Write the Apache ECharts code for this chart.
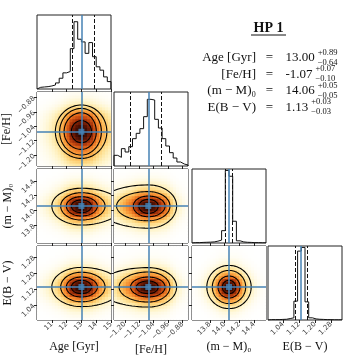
<!DOCTYPE html>
<html>
<head>
<meta charset="utf-8">
<script src="https://cdn.jsdelivr.net/npm/echarts@6/dist/echarts.min.js"></script>
<style>
html, body { margin: 0; padding: 0; background: #fff; }
#chart { width: 357px; height: 357px; }
</style>
</head>
<body>
<div id="chart"></div>
<script>
// parameters, in corner order
var names = ['Age [Gyr]', '[Fe/H]', '(m − M)₀', 'E(B − V)'];
var truths = [13.00, -1.07, 14.06, 1.13];
var errPlus = [0.89, 0.07, 0.05, 0.03];
var errMinus = [0.64, 0.10, 0.05, 0.03];
var ranges = [[10, 15], [-1.26, -0.85], [13.56, 14.56], [0.965, 1.335]];
var ticks = [[11, 12, 13, 14, 15], [-1.20, -1.12, -1.04, -0.96, -0.88], [13.8, 14.0, 14.2, 14.4], [1.04, 1.12, 1.20, 1.28]];
var tickDecimals = [0, 2, 1, 2];

// marginal histograms, 20 bins over each range (peak = 100)
var histAge = [2.5, 3, 3.5, 4.5, 6, 9, 16, 24, 26, 60, 100, 74, 70, 53, 69, 48, 33, 28, 18, 11];
var histFeH = [16, 13, 26, 21, 29, 41, 49, 56, 74, 100, 99, 70, 57, 41, 30, 20, 12, 6, 3, 1.5];
var histMM = [0.5, 0.5, 0.8, 1, 1.2, 1.5, 2.5, 4, 17, 100, 92, 30, 3, 1.5, 1, 0.8, 0.5, 0.5, 0.3, 0.3];
var histEBV = [0.5, 0.5, 0.5, 0.8, 1, 2, 3, 26, 95, 100, 25, 3, 1.5, 1, 0.8, 0.5, 0.5, 0.3, 0.3, 0.3];
var histTop = [110, 111, 102, 102];

// smoothed density profiles for the 2D maps, 25 cells over each range
var profAge = [0.03, 0.045, 0.065, 0.09, 0.125, 0.17, 0.23, 0.3, 0.41, 0.54, 0.68, 0.84, 0.91, 0.97, 1, 1, 0.97, 0.91, 0.84, 0.7, 0.58, 0.47, 0.38, 0.31, 0.25];
var profFeH = [0.2, 0.27, 0.35, 0.42, 0.5, 0.56, 0.65, 0.77, 0.87, 0.94, 0.98, 1, 0.98, 0.95, 0.89, 0.81, 0.71, 0.62, 0.47, 0.3, 0.2, 0.12, 0.08, 0.05, 0.03];
var profMM = [0.01, 0.02, 0.035, 0.06, 0.1, 0.16, 0.24, 0.35, 0.52, 0.72, 0.88, 0.97, 1, 0.97, 0.88, 0.72, 0.52, 0.35, 0.24, 0.16, 0.1, 0.06, 0.035, 0.02, 0.01];
var profEBV = [0.02, 0.04, 0.065, 0.11, 0.18, 0.28, 0.43, 0.58, 0.78, 0.92, 0.99, 1, 0.94, 0.83, 0.62, 0.47, 0.33, 0.2, 0.12, 0.07, 0.045, 0.025, 0.015, 0.01, 0.005];
var profiles = [profAge, profFeH, profMM, profEBV];

// contour half widths, inner to outer: [left, right, down, up] in data units
var contAgeFeH = [[0.68, 0.68, 0.061, 0.061], [1.17, 1.01, 0.098, 0.105], [1.47, 1.35, 0.129, 0.129], [1.76, 1.72, 0.148, 0.148]];
var contAgeMM = [[0.68, 0.68, 0.09, 0.081], [1.02, 1.08, 0.135, 0.126], [1.4, 1.6, 0.19, 0.18], [2.0, 2.7, 0.257, 0.24]];
var contAgeEBV = [[0.68, 0.68, 0.033, 0.033], [1.02, 1.08, 0.05, 0.05], [1.4, 1.6, 0.074, 0.074], [2.0, 2.7, 0.098, 0.098]];
var contFeHMM = [[0.052, 0.055, 0.1, 0.09], [0.083, 0.093, 0.145, 0.135], [0.176, 0.12, 0.2, 0.195], [0.28, 0.157, 0.3, 0.285]];
var contFeHEBV = [[0.066, 0.055, 0.033, 0.03], [0.098, 0.093, 0.05, 0.05], [0.162, 0.12, 0.075, 0.075], [0.28, 0.157, 0.1, 0.097]];
var contMMEBV = [[0.09, 0.09, 0.0335, 0.0335], [0.149, 0.149, 0.055, 0.055], [0.226, 0.226, 0.083, 0.083], [0.3, 0.3, 0.108, 0.108]];
var contours = { '1_0': contAgeFeH, '2_0': contAgeMM, '3_0': contAgeEBV, '2_1': contFeHMM, '3_1': contFeHEBV, '3_2': contMMEBV };

var BLUE = '#4682b4';
var heatColors = ['#ffffff', '#fff5cc', '#fee49a', '#fdca6a', '#fbac48', '#f58c30', '#e46a1c', '#c44810', '#9a2c08', '#621604', '#200500'];
var serif = '"Liberation Serif", "DejaVu Serif", serif';

// panel layout
var colLeft = [37, 114, 192, 268];
var rowTop = [15, 92, 169, 246];
var size = 74;

function fmt(k) {
    return function (v) {
        return (v < 0 ? '−' : '') + Math.abs(v).toFixed(tickDecimals[k]);
    };
}

function heatRender(dx, dy) {
    return function (params, api) {
        var p = api.coord([api.value(0) - dx / 2, api.value(1) + dy / 2]);
        var s = api.size([dx, dy]);
        return {
            type: 'rect',
            shape: { x: p[0], y: p[1], width: s[0] + 0.6, height: s[1] + 0.6 },
            style: { fill: api.visual('color') }
        };
    };
}

function contourRender(params, api) {
    var c = api.coord([api.value(0), api.value(1)]);
    var a = api.size([api.value(2), api.value(4)]); // left, down
    var b = api.size([api.value(3), api.value(5)]); // right, up
    var pts = [];
    for (var k = 0; k <= 96; k++) {
        var t = k / 96 * Math.PI * 2, cs = Math.cos(t), sn = Math.sin(t);
        pts.push([c[0] + cs * (cs >= 0 ? b[0] : a[0]), c[1] - sn * (sn >= 0 ? b[1] : a[1])]);
    }
    return { type: 'polyline', shape: { points: pts }, style: { stroke: '#000', lineWidth: 1.1, fill: null } };
}

var grids = [], xAxes = [], yAxes = [], series = [], heatIdx = [];

for (var r = 0; r < 4; r++) {
    for (var c = 0; c <= r; c++) {
        var gi = grids.length;
        grids.push({ left: colLeft[c], top: rowTop[r], width: size, height: size, show: true, borderColor: '#222', borderWidth: 1 });
        xAxes.push({
            gridIndex: gi, type: 'value', min: ranges[c][0], max: ranges[c][1],
            axisLine: { show: false }, splitLine: { show: false },
            axisTick: { show: true, length: 3, customValues: ticks[c], lineStyle: { color: '#222' } },
            axisLabel: { show: r === 3, customValues: ticks[c], rotate: 45, margin: 3, fontSize: 7, color: '#444', fontFamily: 'DejaVu Sans', formatter: fmt(c) },
            name: r === 3 ? names[c] : '', nameLocation: 'middle', nameGap: 21,
            nameTextStyle: { fontFamily: serif, fontSize: 12, color: '#111' }
        });
        if (r === c) {
            yAxes.push({ gridIndex: gi, type: 'value', min: 0, max: histTop[c], show: false });

            var w = (ranges[c][1] - ranges[c][0]) / 20;
            var h = [histAge, histFeH, histMM, histEBV][c];
            var pts = [[ranges[c][0], 0]];
            for (var i = 0; i < h.length; i++) pts.push([ranges[c][0] + i * w, h[i]]);
            pts.push([ranges[c][1], h[h.length - 1]]);
            pts.push([ranges[c][1], 0]);

            var dash = { color: '#111', width: 1, type: [4, 2] };
            series.push({
                type: 'line', xAxisIndex: gi, yAxisIndex: gi, step: 'end', symbol: 'none', silent: true,
                lineStyle: { color: '#111', width: 1 }, data: pts, z: 2,
                markLine: {
                    silent: true, symbol: ['none', 'none'], label: { show: false }, animation: false,
                    data: [
                        { xAxis: truths[c] - errMinus[c], lineStyle: dash },
                        { xAxis: truths[c] + errPlus[c], lineStyle: dash },
                        { xAxis: truths[c], lineStyle: { color: BLUE, width: 1.5, type: 'solid' } }
                    ]
                }
            });
        } else {
            yAxes.push({
                gridIndex: gi, type: 'value', min: ranges[r][0], max: ranges[r][1],
                axisLine: { show: false }, splitLine: { show: false },
                axisTick: { show: true, length: 3, customValues: ticks[r], lineStyle: { color: '#222' } },
                axisLabel: { show: c === 0, customValues: ticks[r], rotate: 45, margin: 3, fontSize: 7, color: '#444', fontFamily: 'DejaVu Sans', formatter: fmt(r) },
                name: c === 0 ? names[r] : '', nameLocation: 'middle', nameGap: 23, nameRotate: 90,
                nameTextStyle: { fontFamily: serif, fontSize: 12, color: '#111' }
            });

            // density map
            var px = profiles[c], py = profiles[r];
            var dx = (ranges[c][1] - ranges[c][0]) / px.length;
            var dy = (ranges[r][1] - ranges[r][0]) / py.length;
            var cells = [];
            for (var i = 0; i < px.length; i++) {
                for (var j = 0; j < py.length; j++) {
                    cells.push([ranges[c][0] + (i + 0.5) * dx, ranges[r][0] + (j + 0.5) * dy, px[i] * py[j]]);
                }
            }
            heatIdx.push(series.length);
            series.push({
                type: 'custom', xAxisIndex: gi, yAxisIndex: gi, renderItem: heatRender(dx, dy),
                data: cells, encode: { x: 0, y: 1 }, clip: true, silent: true, z: 1
            });

            // contours
            var lv = contours[r + '_' + c].map(function (e) {
                return [truths[c], truths[r], e[0], e[1], e[2], e[3]];
            });
            series.push({
                type: 'custom', xAxisIndex: gi, yAxisIndex: gi, renderItem: contourRender,
                data: lv, encode: { x: 0, y: 1 }, clip: true, silent: true, z: 2
            });

            // truth lines and marker
            series.push({
                type: 'scatter', xAxisIndex: gi, yAxisIndex: gi, symbol: 'rect', symbolSize: 6,
                itemStyle: { color: BLUE }, data: [[truths[c], truths[r]]], silent: true, z: 4,
                markLine: {
                    silent: true, symbol: ['none', 'none'], label: { show: false }, animation: false,
                    lineStyle: { color: BLUE, width: 1.5, type: 'solid' },
                    data: [{ xAxis: truths[c] }, { yAxis: truths[r] }]
                }
            });
        }
    }
}

// summary text block
var ctx = document.createElement('canvas').getContext('2d');
ctx.font = '13px ' + serif;
var rowY = [58, 74.5, 91, 107.5];
var graphic = [
    { type: 'text', x: 268.5, y: 28.5, style: { text: 'HP 1', font: 'bold 14px ' + serif, fill: '#111', align: 'center', verticalAlign: 'middle', textAlign: 'center', textVerticalAlign: 'middle' } },
    { type: 'line', shape: { x1: 251, y1: 35, x2: 286, y2: 35 }, style: { stroke: '#111', lineWidth: 1 } }
];
for (var k = 0; k < 4; k++) {
    var val = truths[k].toFixed(2);
    var sx = 285.5 + ctx.measureText(val).width + 3;
    graphic.push(
        { type: 'text', x: 256, y: rowY[k], style: { text: names[k], font: '13px ' + serif, fill: '#111', align: 'right', verticalAlign: 'middle', textAlign: 'right', textVerticalAlign: 'middle' } },
        { type: 'text', x: 269.5, y: rowY[k], style: { text: '=', font: '13px ' + serif, fill: '#111', align: 'center', verticalAlign: 'middle', textAlign: 'center', textVerticalAlign: 'middle' } },
        { type: 'text', x: 285.5, y: rowY[k], style: { text: val, font: '13px ' + serif, fill: '#111', align: 'left', verticalAlign: 'middle', textAlign: 'left', textVerticalAlign: 'middle' } },
        { type: 'text', x: sx, y: rowY[k] - 5.5, style: { text: '+' + errPlus[k].toFixed(2), font: '8.5px ' + serif, fill: '#111', align: 'left', verticalAlign: 'middle', textAlign: 'left', textVerticalAlign: 'middle' } },
        { type: 'text', x: sx, y: rowY[k] + 4.5, style: { text: '−' + errMinus[k].toFixed(2), font: '8.5px ' + serif, fill: '#111', align: 'left', verticalAlign: 'middle', textAlign: 'left', textVerticalAlign: 'middle' } }
    );
}

var chart = echarts.init(document.getElementById('chart'));
chart.setOption({
    animation: false,
    backgroundColor: '#fff',
    grid: grids,
    xAxis: xAxes,
    yAxis: yAxes,
    visualMap: {
        type: 'continuous', show: false, min: 0, max: 1, dimension: 2,
        seriesIndex: heatIdx, inRange: { color: heatColors }
    },
    graphic: graphic,
    series: series
});
</script>
</body>
</html>
